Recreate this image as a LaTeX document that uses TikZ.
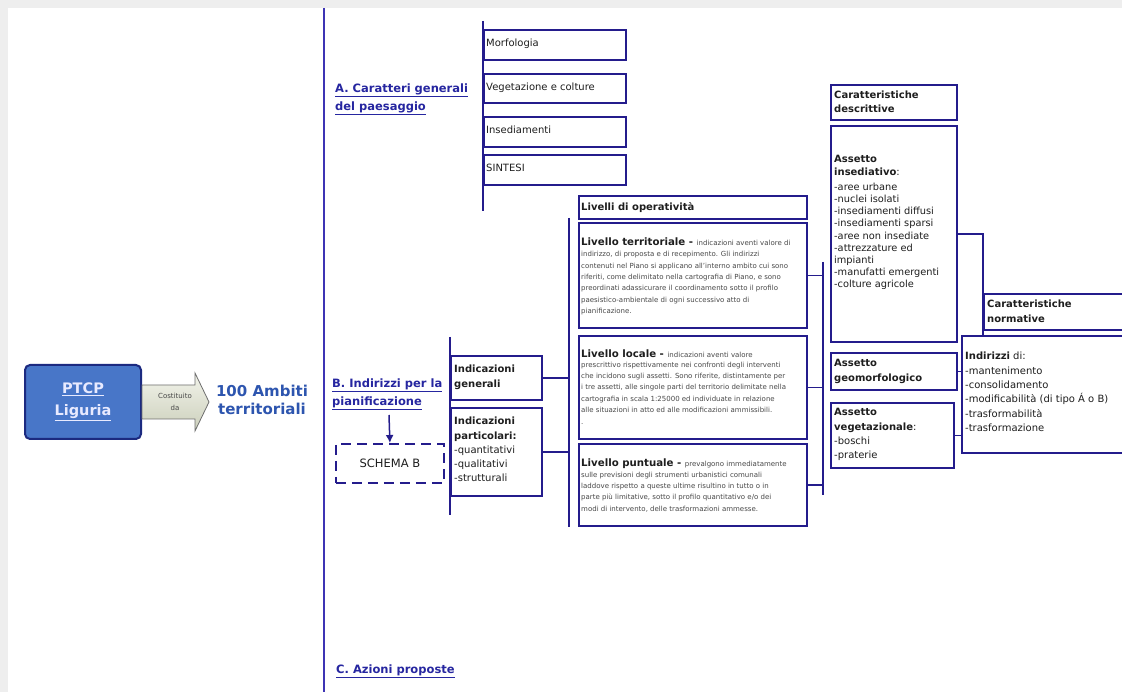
\documentclass[tikz,border=0pt]{standalone}
\usepackage{fontspec}
\setmainfont{DejaVu Sans}
\usetikzlibrary{arrows.meta,calc}
\definecolor{navy}{RGB}{36,28,140}
\definecolor{mainblue}{RGB}{62,52,180}
\definecolor{titleblue}{RGB}{38,38,160}
\definecolor{ambiti}{RGB}{45,85,175}
\definecolor{ptcpfill}{RGB}{72,118,200}
\definecolor{ptcpedge}{RGB}{28,42,128}
\definecolor{ptcptext}{RGB}{232,234,255}
\definecolor{smallgray}{RGB}{72,72,72}
\definecolor{textdark}{RGB}{30,30,30}
\definecolor{bggray}{RGB}{238,238,238}
\definecolor{arrtop}{RGB}{242,243,234}
\definecolor{arrbot}{RGB}{204,208,188}
\newcommand{\myfs}[2]{\fontsize{#1}{#2}\selectfont}
\begin{document}
\begin{tikzpicture}[x=1pt,y=-1pt,
  box/.style={draw=navy,line width=1.8pt,fill=white,inner sep=0pt,anchor=north west},
  dashbox/.style={draw=navy,line width=1.8pt,dash pattern=on 10pt off 6pt,fill=white,inner sep=0pt,anchor=north west},
  conn/.style={draw=navy,line width=1.5pt},
  mainline/.style={draw=mainblue,line width=2.2pt},
  txt/.style={inner sep=0pt,text=textdark},
  ttl/.style={inner sep=0pt,text=titleblue,font=\bfseries\myfs{11.5}{18},align=left,anchor=north west},
  ptcp/.style={draw=ptcpedge,line width=2pt,fill=ptcpfill,rounded corners=5pt,inner sep=0pt},
  arrowshape/.style={draw={rgb,255:red,110;green,110;blue,110},line width=0.8pt,top color=arrtop,bottom color=arrbot},
  small/.style={inner sep=0pt,text=smallgray,font=\myfs{7}{11.4},align=left,anchor=north west}
]
\useasboundingbox (0,0) rectangle (1122,692);
\clip (0,0) rectangle (1122,692);
\fill[bggray] (0,0) rectangle (1122,692);
\fill[white] (8,8) rectangle (1122,692);

% main vertical line
\coordinate (mainTop) at (324,8);
\coordinate (mainBot) at (324,692);
\draw[mainline] (mainTop) -- (mainBot);

% PTCP box and arrow
\node[ptcp,minimum width=116pt,minimum height=74pt,anchor=north west] (ptcp) at (24,364) {};
\node[inner sep=0pt,align=center,font=\bfseries\myfs{14.5}{22},text=ptcptext] (ptcpT) at (ptcp.center) {\underline{PTCP}\\\underline{Liguria}};
\path[arrowshape] ($(ptcp.east)+(0,-17)$) -- ++(53,0) -- ++(0,-12) -- ++(14,29) -- ++(-14,29) -- ++(0,-12) -- ++(-53,0) -- cycle;
\node[inner sep=0pt,align=center,font=\myfs{7}{12},text=smallgray] (costT) at ($(ptcp.east)+(33,0)$) {Costituito\\da};
\node[inner sep=0pt,align=center,font=\bfseries\myfs{15}{18},text=ambiti] (ambiti) at (262,400) {100 Ambiti\\territoriali};

% Section A
\node[ttl] (titA) at (335,79.4) {\strut\underline{A. Caratteri generali}\\\underline{del paesaggio}};
\coordinate (aTop) at (483,21);
\coordinate (aBot) at (483,211);
\draw[conn] (aTop) -- (aBot);
\node[box,minimum width=142pt,minimum height=30pt] (morf) at (483,29) {};
\node[box,minimum width=142pt,minimum height=29pt] (vege) at (483,73) {};
\node[box,minimum width=142pt,minimum height=30pt] (insA) at (483,116) {};
\node[box,minimum width=142pt,minimum height=30pt] (sint) at (483,154) {};
\node[txt,anchor=base west,font=\myfs{10}{12}] (morfT) at (486,47) {Morfologia};
\node[txt,anchor=base west,font=\myfs{10}{12}] (vegeT) at (486,91) {Vegetazione e colture};
\node[txt,anchor=base west,font=\myfs{10}{12}] (insAT) at (486,134) {Insediamenti};
\node[txt,anchor=base west,font=\myfs{10}{12}] (sintT) at (486,172) {SINTESI};

% Section B
\node[ttl] (titB) at (332,374.4) {\strut\underline{B. Indirizzi per la}\\\underline{pianificazione}};
\node[dashbox,minimum width=108pt,minimum height=39pt] (schema) at (335,443) {};
\node[txt,font=\myfs{11.5}{14}] (schemaT) at (schema.center) {SCHEMA B};
\coordinate (schArr) at (389,415);
\draw[conn,-{Latex[length=8pt,width=8pt]}] (schArr) -- (schema.north);

\coordinate (bTop) at (450,337);
\coordinate (bBot) at (450,515);
\draw[conn] (bTop) -- (bBot);
\node[box,minimum width=91pt,minimum height=44pt] (genB) at (450,355) {};
\node[box,minimum width=91pt,minimum height=88pt] (partB) at (450,407) {};
\node[txt,anchor=north west,align=left,font=\bfseries\myfs{10}{15}] (genBT) at (454,362) {\strut Indicazioni\\generali};
\node[txt,anchor=north west,align=left,font=\myfs{10}{14.3}] (partBT) at (454,414.5) {\strut\textbf{Indicazioni}\\\textbf{particolari:}\\-quantitativi\\-qualitativi\\-strutturali};

% Livelli di operativita
\coordinate (bus1Top) at (569,218);
\coordinate (bus1Bot) at (569,527);
\draw[conn] (bus1Top) -- (bus1Bot);
\draw[conn] (genB.east) -- (genB.east -| bus1Top);
\draw[conn] (partB.east) -- (partB.east -| bus1Top);

\node[box,minimum width=228pt,minimum height=23pt] (livop) at (578,195) {};
\node[box,minimum width=228pt,minimum height=105pt] (terr) at (578,222) {};
\node[box,minimum width=228pt,minimum height=103pt] (loc) at (578,335) {};
\node[box,minimum width=228pt,minimum height=82pt] (punt) at (578,443) {};
\node[txt,anchor=base west,font=\bfseries\myfs{10}{12}] (livopT) at (581,210.5) {Livelli di operatività};

\node[txt,anchor=base west,font=\bfseries\myfs{10.2}{12}] (terrH) at (581,246) {Livello territoriale - {\mdseries\myfs{7}{8}\color{smallgray}indicazioni aventi valore di}};
\node[small] (terrB) at (581,248.5) {\strut indirizzo, di proposta e di recepimento. Gli indirizzi\\contenuti nel Piano si applicano all'interno ambito cui sono\\riferiti, come delimitato nella cartografia di Piano, e sono\\preordinati adassicurare il coordinamento sotto il profilo\\paesistico-ambientale di ogni successivo atto di\\pianificazione.};

\node[txt,anchor=base west,font=\bfseries\myfs{10.2}{12}] (locH) at (581,357.5) {Livello locale - {\mdseries\myfs{7}{8}\color{smallgray}indicazioni aventi valore}};
\node[small] (locB) at (581,359) {\strut prescrittivo rispettivamente nei confronti degli interventi\\che incidono sugli assetti. Sono riferite, distintamente per\\i tre assetti, alle singole parti del territorio delimitate nella\\cartografia in scala 1:25000 ed individuate in relazione\\alle situazioni in atto ed alle modificazioni ammissibili.\\.};

\node[txt,anchor=base west,font=\bfseries\myfs{10.2}{12}] (puntH) at (581,466.5) {Livello puntuale - {\mdseries\myfs{7}{8}\color{smallgray}prevalgono immediatamente}};
\node[small] (puntB) at (581,469) {\strut sulle previsioni degli strumenti urbanistici comunali\\laddove rispetto a queste ultime risultino in tutto o in\\parte più limitative, sotto il profilo quantitativo e/o dei\\modi di intervento, delle trasformazioni ammesse.};

\coordinate (bus2Top) at (823,262);
\coordinate (bus2Bot) at (823,495);
\draw[conn] (bus2Top) -- (bus2Bot);
\draw[conn] (terr.east) -- (terr.east -| bus2Top);
\draw[conn] (loc.east) -- (loc.east -| bus2Top);
\draw[conn] (punt.east) -- (punt.east -| bus2Top);

% Caratteristiche descrittive
\node[box,minimum width=126pt,minimum height=35pt] (cdesc) at (830,84) {};
\node[box,minimum width=126pt,minimum height=216pt] (insd) at (830,125) {};
\node[box,minimum width=126pt,minimum height=37pt] (geo) at (830,352) {};
\node[box,minimum width=123pt,minimum height=65pt] (vegz) at (830,402) {};
\node[txt,anchor=north west,align=left,font=\bfseries\myfs{10}{13.3}] (cdescT) at (834,89.2) {\strut Caratteristiche\\descrittive};
\node[txt,anchor=north west,align=left,font=\myfs{10}{13.5}] (insdH) at (834,152.5) {\strut\textbf{Assetto}\\\textbf{insediativo}:};
\node[txt,anchor=north west,align=left,font=\myfs{9.8}{12.1}] (insdL) at (834,182) {\strut -aree urbane\\-nuclei isolati\\-insediamenti diffusi\\-insediamenti sparsi\\-aree non insediate\\-attrezzature ed\\impianti\\-manufatti emergenti\\-colture agricole};
\node[txt,anchor=north west,align=left,font=\bfseries\myfs{10}{14.5}] (geoT) at (834,356.4) {\strut Assetto\\geomorfologico};
\node[txt,anchor=north west,align=left,font=\myfs{10}{14.3}] (vegzT) at (834,405.5) {\strut\textbf{Assetto}\\\textbf{vegetazionale}:\\-boschi\\-praterie};

% Caratteristiche normative
\node[box,minimum width=160pt,minimum height=36pt] (cnorm) at (983,293) {};
\node[box,minimum width=180pt,minimum height=117pt] (indir) at (961,335) {};
\node[txt,anchor=north west,align=left,font=\bfseries\myfs{10}{15}] (cnormT) at (987,297) {\strut Caratteristiche\\normative};
\node[txt,anchor=north west,align=left,font=\myfs{10}{14.4}] (indirT) at (965,349.4) {\strut\textbf{Indirizzi} di:\\-mantenimento\\-consolidamento\\-modificabilità (di tipo Á o B)\\-trasformabilità\\-trasformazione};

\draw[conn] (insd.east) -| (cnorm.west |- indir.north);
\draw[conn] (geo.east) -- (geo.east -| indir.west);
\draw[conn] (vegz.east) -- (vegz.east -| indir.west);

% Section C
\node[inner sep=0pt,text=titleblue,font=\bfseries\myfs{11.5}{14},anchor=base west] (titC) at (336,673) {\underline{C. Azioni proposte}};
\end{tikzpicture}
\end{document}
